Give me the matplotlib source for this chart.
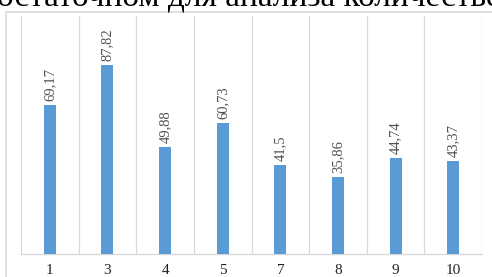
import matplotlib.pyplot as plt
from matplotlib.patches import Rectangle

# data
categories = ["1", "3", "4", "5", "7", "8", "9", "10"]
values = [69.17, 87.82, 49.88, 60.73, 41.5, 35.86, 44.74, 43.37]
value_labels = ["69,17", "87,82", "49,88", "60,73", "41,5", "35,86", "44,74", "43,37"]
header = "достаточном для анализа количестве"

BAR = "#5b9bd5"
GRID = "#d9d9d9"


def main():
    fig = plt.figure(figsize=(4.92, 2.77), dpi=100)
    fig.patch.set_facecolor("white")

    # chart frame from the scanned document
    fig.patches.append(Rectangle((6 / 492, -0.1), 1.2, 1 - 12 / 277 + 0.1,
                                 transform=fig.transFigure, fill=False,
                                 edgecolor=GRID, linewidth=1.2))

    # cut-off line of text above the chart (the scan starts mid-line)
    fig.text(-0.04, 1 - 6 / 277, header, fontsize=24, family="Liberation Serif",
             color="black", ha="left", va="baseline")

    ax = fig.add_axes([21 / 492, 1 - 254 / 277, (482 - 21) / 492, (254 - 16) / 277])
    x = list(range(len(categories)))
    ax.bar(x, values, width=0.21, color=BAR, zorder=3)

    for xi, v, lab in zip(x, values, value_labels):
        ax.annotate(lab, (xi, v), xytext=(0, 3), textcoords="offset points",
                    rotation=90, ha="center", va="bottom", fontsize=10.5,
                    family="Liberation Serif", color="#505050")

    ax.set_xlim(-0.5, len(categories) - 0.5)
    ax.set_ylim(0, 110.7)
    for b in range(len(categories) + 1):
        ax.axvline(b - 0.5, color=GRID, linewidth=0.9, zorder=1)

    ax.set_xticks(x)
    ax.set_xticklabels(categories, family="Liberation Serif", fontsize=11, color="#222222")
    ax.tick_params(axis="x", length=0, pad=7)
    ax.set_yticks([])
    for s in ["top", "right", "left"]:
        ax.spines[s].set_visible(False)
    ax.spines["bottom"].set_color(GRID)
    ax.spines["bottom"].set_linewidth(1.0)

    fig.savefig("out.png", dpi=100)


if __name__ == '__main__':
    main()
